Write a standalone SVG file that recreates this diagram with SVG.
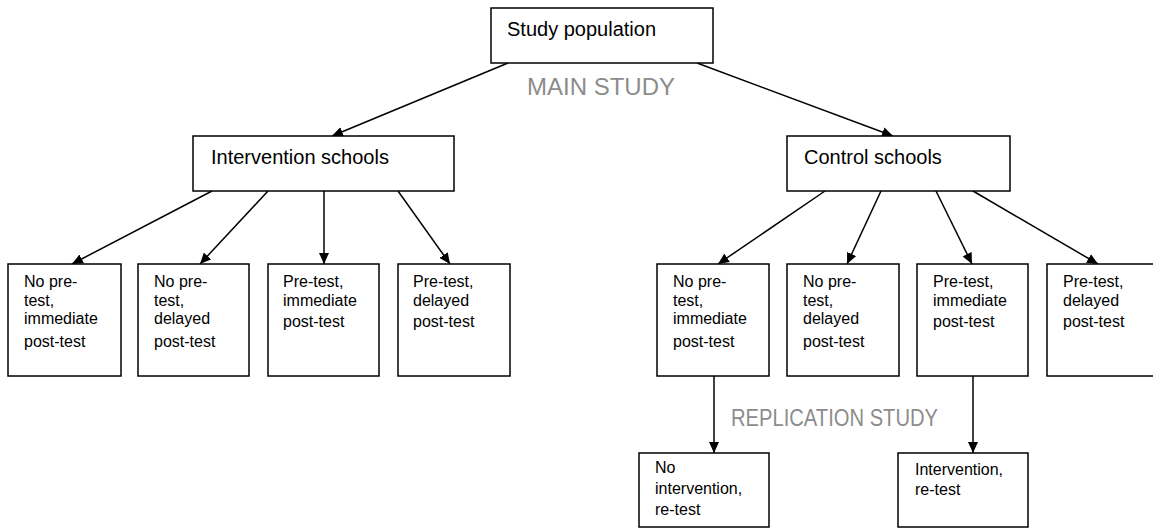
<svg xmlns="http://www.w3.org/2000/svg" width="1153" height="529" viewBox="0 0 1153 529">
<style>
.box{fill:#fff;stroke:#000;stroke-width:1.5}
.t{font-family:"Liberation Sans",Arial,sans-serif;fill:#000}
.big{font-size:20px}
.sm{font-size:16px}
.lbl{font-family:"Liberation Sans",Arial,sans-serif;font-size:23px;fill:#8c8c8c}
.c{stroke:#000;stroke-width:1.5;fill:none;marker-end:url(#ah)}
</style>
<defs>
<marker id="ah" markerUnits="userSpaceOnUse" markerWidth="11" markerHeight="10" refX="11" refY="5" orient="auto">
<path d="M0,0 L11,5 L0,10 z" fill="#000"/>
</marker>
</defs>
<rect width="1153" height="529" fill="#fff"/>
<g id="connectors">
<line class="c" x1="508" y1="63" x2="332" y2="136"/>
<line class="c" x1="697" y1="63" x2="893" y2="136"/>
<line class="c" x1="212" y1="191" x2="72" y2="264"/>
<line class="c" x1="268" y1="191" x2="200" y2="264"/>
<line class="c" x1="324" y1="191" x2="324" y2="264"/>
<line class="c" x1="398" y1="191" x2="450" y2="264"/>
<line class="c" x1="825" y1="191" x2="718" y2="264"/>
<line class="c" x1="881" y1="191" x2="847" y2="264"/>
<line class="c" x1="936" y1="191" x2="972" y2="264"/>
<line class="c" x1="973" y1="191" x2="1098" y2="264"/>
<line class="c" x1="714" y1="376" x2="714" y2="453"/>
<line class="c" x1="973" y1="376" x2="973" y2="453"/>
</g>
<g id="labels">
<text class="lbl" x="527" y="95" textLength="148" lengthAdjust="spacingAndGlyphs">MAIN STUDY</text>
<text class="lbl" x="731" y="426" textLength="207" lengthAdjust="spacingAndGlyphs">REPLICATION STUDY</text>
</g>
<g id="study-population">
<rect class="box" x="491" y="8" width="222" height="55"/>
<text class="t big" x="507" y="36">Study population</text>
</g>
<g id="intervention-schools">
<rect class="box" x="193" y="136" width="261" height="55"/>
<text class="t big" x="211" y="164">Intervention schools</text>
</g>
<g id="control-schools">
<rect class="box" x="787" y="136" width="223" height="55"/>
<text class="t big" x="804" y="164">Control schools</text>
</g>
<g id="int-1">
<rect class="box" x="8" y="264" width="113" height="112"/>
<text class="t sm"><tspan x="24" y="287">No pre-</tspan><tspan x="24" y="306">test,</tspan><tspan x="24" y="324">immediate</tspan><tspan x="24" y="347">post-test</tspan></text>
</g>
<g id="int-2">
<rect class="box" x="138" y="264" width="111" height="112"/>
<text class="t sm"><tspan x="154" y="287">No pre-</tspan><tspan x="154" y="306">test,</tspan><tspan x="154" y="324">delayed</tspan><tspan x="154" y="347">post-test</tspan></text>
</g>
<g id="int-3">
<rect class="box" x="268" y="264" width="111" height="112"/>
<text class="t sm"><tspan x="283" y="287">Pre-test,</tspan><tspan x="283" y="306">immediate</tspan><tspan x="283" y="327">post-test</tspan></text>
</g>
<g id="int-4">
<rect class="box" x="398" y="264" width="112" height="112"/>
<text class="t sm"><tspan x="413" y="287">Pre-test,</tspan><tspan x="413" y="306">delayed</tspan><tspan x="413" y="327">post-test</tspan></text>
</g>
<g id="ctrl-1">
<rect class="box" x="657" y="264" width="112" height="112"/>
<text class="t sm"><tspan x="673" y="287">No pre-</tspan><tspan x="673" y="306">test,</tspan><tspan x="673" y="324">immediate</tspan><tspan x="673" y="347">post-test</tspan></text>
</g>
<g id="ctrl-2">
<rect class="box" x="787" y="264" width="112" height="112"/>
<text class="t sm"><tspan x="803" y="287">No pre-</tspan><tspan x="803" y="306">test,</tspan><tspan x="803" y="324">delayed</tspan><tspan x="803" y="347">post-test</tspan></text>
</g>
<g id="ctrl-3">
<rect class="box" x="917" y="264" width="111" height="112"/>
<text class="t sm"><tspan x="933" y="287">Pre-test,</tspan><tspan x="933" y="306">immediate</tspan><tspan x="933" y="327">post-test</tspan></text>
</g>
<g id="ctrl-4">
<rect class="box" x="1047" y="264" width="115" height="112"/>
<text class="t sm"><tspan x="1063" y="287">Pre-test,</tspan><tspan x="1063" y="306">delayed</tspan><tspan x="1063" y="327">post-test</tspan></text>
</g>
<g id="rep-1">
<rect class="box" x="639" y="453" width="130" height="74"/>
<text class="t sm"><tspan x="655" y="473">No</tspan><tspan x="655" y="494">intervention,</tspan><tspan x="655" y="515">re-test</tspan></text>
</g>
<g id="rep-2">
<rect class="box" x="898" y="453" width="130" height="74"/>
<text class="t sm"><tspan x="915" y="475">Intervention,</tspan><tspan x="915" y="495">re-test</tspan></text>
</g>
</svg>
